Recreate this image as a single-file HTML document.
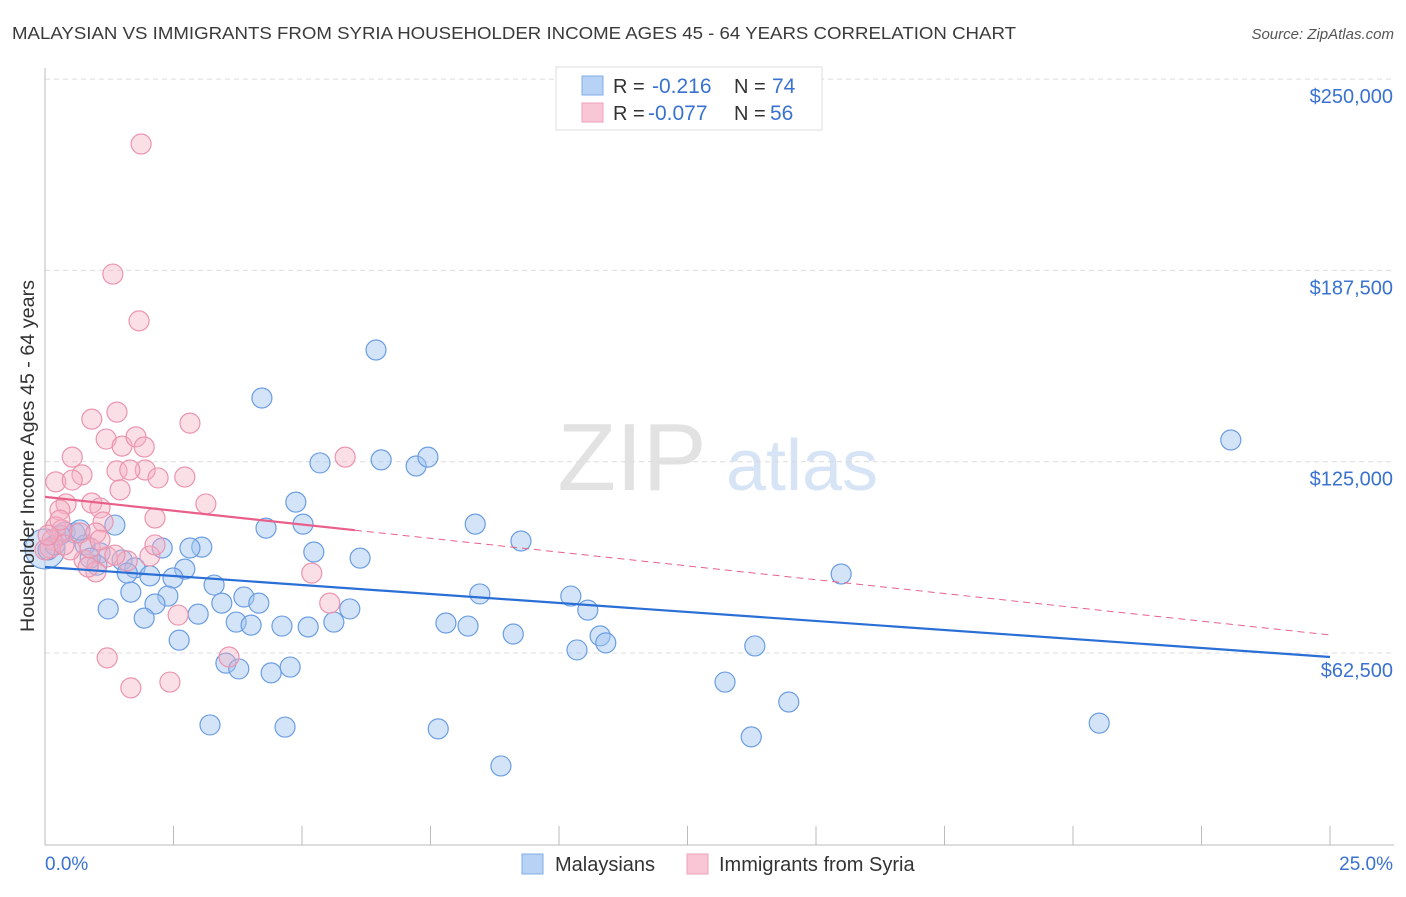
<!DOCTYPE html>
<html><head><meta charset="utf-8"><style>
body{margin:0;background:#fff;font-family:"Liberation Sans",sans-serif;}
svg text{font-family:"Liberation Sans",sans-serif;}
</style></head><body>
<svg id="chart" width="1406" height="892">
<text x="12" y="39" font-size="17.5" fill="#3a3a3a" textLength="1004" lengthAdjust="spacingAndGlyphs">MALAYSIAN VS IMMIGRANTS FROM SYRIA HOUSEHOLDER INCOME AGES 45 - 64 YEARS CORRELATION CHART</text>
<text x="1394" y="39" font-size="15" fill="#555" font-style="italic" text-anchor="end">Source: ZipAtlas.com</text>
<g><text x="632" y="490" font-size="96" fill="#e2e2e2" font-family="Liberation Serif" text-anchor="middle">ZIP</text><text x="802" y="490" font-size="72" fill="#d6e4f5" text-anchor="middle">atlas</text></g>
<g id="grid"></g><g id="axes"></g><g id="pts"></g><g id="lines"></g>
<text transform="translate(34,456) rotate(-90)" font-size="19" fill="#333" text-anchor="middle" textLength="352" lengthAdjust="spacingAndGlyphs">Householder Income Ages 45 - 64 years</text>
<g>
<rect x="556" y="67" width="266" height="63" fill="#fff" stroke="#ddd"/>
<rect x="582" y="76" width="21" height="19" fill="#b8d2f5" stroke="#80aee8"/>
<rect x="582" y="103" width="21" height="19" fill="#f9c6d5" stroke="#eea0b8"/>
<text x="613" y="93" font-size="20" fill="#333">R = </text><text x="652" y="93" font-size="21" fill="#3a72d0">-0.216</text>
<text x="734" y="93" font-size="20" fill="#333">N = </text><text x="772" y="93" font-size="21" fill="#3a72d0">74</text>
<text x="613" y="120" font-size="20" fill="#333">R = </text><text x="648" y="120" font-size="21" fill="#3a72d0">-0.077</text>
<text x="734" y="120" font-size="20" fill="#333">N = </text><text x="770" y="120" font-size="21" fill="#3a72d0">56</text>
</g>
<g>
<rect x="522" y="854" width="21" height="20" fill="#b8d2f5" stroke="#80aee8"/>
<text x="555" y="871" font-size="20" fill="#333">Malaysians</text>
<rect x="687" y="854" width="21" height="20" fill="#f9c6d5" stroke="#eea0b8"/>
<text x="719" y="871" font-size="20" fill="#333">Immigrants from Syria</text>
</g>
</svg>
<script>
const yTicks=[62500,125000,187500,250000];
const yTickLabels=["$62,500","$125,000","$187,500","$250,000"];
const xTickLabels=["0.0%","25.0%"];
const blueX=[6.44,4.22,23.07,5.35,6.54,7.22,7.45,4.88,5.02,4.30,8.37,1.36,9.26,2.28,3.05,2.82,5.23,6.13,1.07,1.50,1.01,1.75,1.60,2.04,2.72,2.49,15.49,3.29,1.67,2.39,3.87,4.16,8.46,10.23,2.14,1.23,3.44,5.93,10.56,1.93,2.98,3.72,4.01,4.61,5.12,5.62,7.80,8.23,2.61,9.11,10.80,10.91,10.35,13.81,3.52,3.77,4.77,4.40,13.23,14.47,3.21,4.67,7.65,13.74,20.51,8.87,0.06,0.19,0.39,0.58,0.78,0.88,0.29,0.68];
const blueY=[161.5,145.8,132.1,124.6,125.6,123.6,126.5,111.8,104.6,103.3,104.6,104.3,99.1,96.8,97.1,96.8,95.5,93.5,95.2,92.9,91.2,90.3,88.6,87.7,89.9,87.0,88.3,84.7,82.4,81.1,80.8,78.8,81.8,81.1,78.5,76.9,78.8,76.9,76.5,73.9,75.2,72.6,71.6,71.3,71.0,72.6,72.3,71.3,66.7,68.7,68.1,65.8,63.5,64.8,59.2,57.3,57.9,56.0,53.0,46.5,39.0,38.3,37.7,35.1,39.6,25.6,96.2,97.8,102.0,101.7,97.8,93.5,101.0,102.7];
const pinkX=[1.87,1.32,1.83,1.40,0.91,2.82,1.19,1.50,1.77,1.93,0.53,0.72,1.40,1.95,2.72,2.20,1.46,0.21,5.84,0.53,3.13,0.41,0.91,1.07,0.29,2.14,0.21,1.13,0.68,0.99,0.33,0.14,0.10,0.0,0.76,1.60,2.04,2.14,0.99,1.21,5.19,5.54,2.59,1.21,3.58,1.67,2.43,0.84,0.49,0.37,1.36,0.88,1.07,0.29,1.65,0.06];
const pinkY=[228.8,186.3,171.0,141.2,138.9,137.6,132.4,130.1,133.1,129.8,126.5,120.7,122.0,122.3,120.0,119.7,115.8,118.4,126.5,119.0,111.2,111.2,111.5,109.9,109.2,106.6,103.7,105.3,101.7,101.7,102.7,99.4,96.8,96.2,92.9,92.6,94.2,97.8,89.0,93.9,88.6,78.8,74.9,60.9,61.2,51.1,53.0,90.6,96.2,97.8,94.5,96.8,99.4,105.9,122.3,101.0];
const blueTrend=[90.6,61.2];
const pinkTrend=[113.5,68.4];
const pinkSolidEnd=6.03;
const NS="http://www.w3.org/2000/svg";
const X=v=>45+v/25*1285;
const Y=v=>653-(v*1000-62500)*191.3/62500;
function mk(tag,attrs,parent){const e=document.createElementNS(NS,tag);for(const k in attrs)e.setAttribute(k,attrs[k]);document.getElementById(parent).appendChild(e);return e;}
yTicks.forEach((t,i)=>{
 const g=mk('line',{x1:45,x2:1394,y1:Y(t/1000),y2:Y(t/1000),stroke:'#dcdcdc','stroke-dasharray':'5,4'},'grid');
 
 
 const tx=mk('text',{x:1393,y:Y(t/1000)+24,'font-size':20,fill:'#3a72d0','text-anchor':'end'},'axes');
 tx.textContent=yTickLabels[i];
 
 
});
let a=mk('line',{x1:45,x2:45,y1:68,y2:845,stroke:'#bbb'},'axes');


a=mk('line',{x1:45,x2:1394,y1:845,y2:845,stroke:'#bbb'},'axes');


for(let i=0;i<=10;i++){const t=mk('line',{x1:X(i*2.5),x2:X(i*2.5),y1:826,y2:845,stroke:'#bbb'},'axes');
 
 }
let xl=mk('text',{x:45,y:870,'font-size':19,fill:'#3a72d0'},'axes');xl.textContent=xTickLabels[0];


xl=mk('text',{x:1393,y:870,'font-size':19,fill:'#3a72d0','text-anchor':'end'},'axes');xl.textContent=xTickLabels[1];


let big=mk('circle',{cx:X(0),cy:Y(96.5),r:20,fill:'rgba(160,196,240,0.45)',stroke:'#6a9de2','stroke-width':1.2},'pts');


blueX.forEach((x,i)=>{const c=mk('circle',{cx:X(x),cy:Y(blueY[i]),r:10,fill:'rgba(160,196,240,0.45)',stroke:'#6a9de2','stroke-width':1.2},'pts');
 
 });
pinkX.forEach((x,i)=>{const c=mk('circle',{cx:X(x),cy:Y(pinkY[i]),r:10,fill:'rgba(246,175,195,0.4)',stroke:'#eb94ae','stroke-width':1.2},'pts');
 
 });
const bl=mk('line',{x1:X(0),y1:Y(blueTrend[0]),x2:X(25),y2:Y(blueTrend[1]),stroke:'#2a6fd6','stroke-width':2.2},'lines');


const py=x=>pinkTrend[0]+(pinkTrend[1]-pinkTrend[0])*x/25;
const pl=mk('line',{x1:X(0),y1:Y(py(0)),x2:X(pinkSolidEnd),y2:Y(py(pinkSolidEnd)),stroke:'#e8608a','stroke-width':2.2},'lines');


const pd=mk('line',{x1:X(pinkSolidEnd),y1:Y(py(pinkSolidEnd)),x2:X(25),y2:Y(py(25)),stroke:'#e8608a','stroke-width':1,'stroke-dasharray':'7,5'},'lines');


</script>
</body></html>
